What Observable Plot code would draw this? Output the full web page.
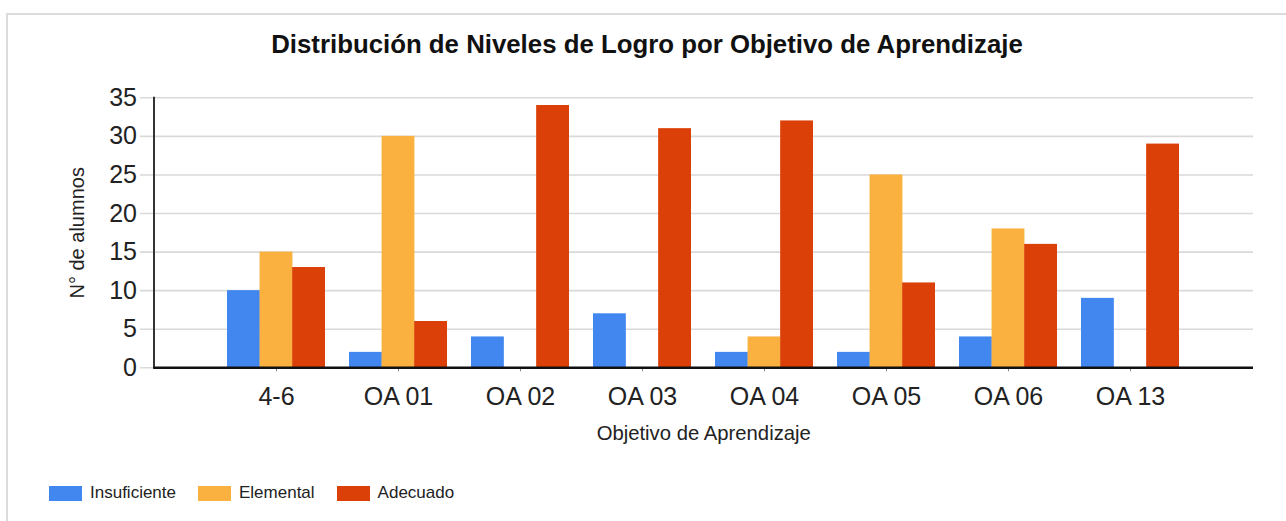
<!DOCTYPE html>
<html>
<head>
<meta charset="utf-8">
<script src="https://cdn.jsdelivr.net/npm/d3@7"></script>
<script src="https://cdn.jsdelivr.net/npm/@observablehq/plot@0.6"></script>
<style>
  html, body { margin: 0; padding: 0; background: #fff; }
  body { width: 1286px; height: 521px; position: relative; overflow: hidden; font-family: Arial, "Liberation Sans", sans-serif; }
  #card { position: absolute; left: 6px; top: 13px; width: 1400px; height: 700px; border-top: 2px solid #dcdcdc; border-left: 2px solid #dcdcdc; }
  #title { position: absolute; left: 8px; width: 1278px; top: 30px; text-align: center; font-weight: bold; font-size: 25.8px; color: #111; }
  #chart { position: absolute; left: 0; top: 0; }
  #legend { position: absolute; left: 49px; top: 483px; display: flex; align-items: center; font-size: 17px; color: #222; }
  .sw { width: 33px; height: 15px; margin-right: 8px; }
  .item { display: flex; align-items: center; margin-right: 22px; }
</style>
</head>
<body>
<div id="card"></div>
<div id="title">Distribución de Niveles de Logro por Objetivo de Aprendizaje</div>
<div id="chart"></div>
<div id="legend"></div>
<script>
// ---- data ----
const categories = ["4-6", "OA 01", "OA 02", "OA 03", "OA 04", "OA 05", "OA 06", "OA 13"];
const seriesNames = ["Insuficiente", "Elemental", "Adecuado"];
const insuficiente = [10, 2, 4, 7, 2, 2, 4, 9];
const elemental = [15, 30, 0, 0, 4, 25, 18, 0];
const adecuado = [13, 6, 34, 31, 32, 11, 16, 29];
const yTicks = [0, 5, 10, 15, 20, 25, 30, 35];
const colors = ["#4287f0", "#fab13f", "#dc4009"];
const xLabel = "Objetivo de Aprendizaje";
const yLabel = "N° de alumnos";

const seriesValues = [insuficiente, elemental, adecuado];
const rows = categories.flatMap((c, i) =>
  seriesNames.map((s, j) => ({cat: c, serie: s, value: seriesValues[j][i]})));

// ---- layout ----
const W = 1286, H = 470;
const mL = 153.5, mR = 33, mT = 97.3, mB = H - 367.3;
const paddingInner = 0.2, paddingOuter = 0.6;
const step = (W - mL - mR) / (categories.length - paddingInner + 2 * paddingOuter);
const bw = step * (1 - paddingInner);
const third = bw / 3;

const barMarks = seriesNames.map((s, j) =>
  Plot.barY(rows.filter(d => d.serie === s), {
    x: "cat", y: "value", fill: colors[j],
    insetLeft: third, insetRight: third, dx: (j - 1) * third
  }));

const chart = Plot.plot({
  width: W, height: H,
  marginLeft: mL, marginRight: mR, marginTop: mT, marginBottom: mB,
  style: {fontFamily: 'Arial, "Liberation Sans", sans-serif', background: "transparent", overflow: "visible"},
  x: {type: "band", domain: categories, paddingInner, paddingOuter, label: null},
  y: {domain: [0, 35], label: null},
  marks: [
    Plot.gridY(yTicks, {stroke: "#d9d9d9", strokeOpacity: 1, strokeWidth: 1.6, insetLeft: -13.5}),
    Plot.axisY(yTicks, {tickSize: 0, tickPadding: 17, fontSize: 25, fill: "#222", label: null}),
    Plot.axisX({tickSize: 4, tickPadding: 15, fontSize: 25, fill: "#222", stroke: "#888", label: null}),
    ...barMarks,
    Plot.frame({anchor: "left", stroke: "#333", strokeWidth: 2}),
    Plot.ruleY([0], {stroke: "#111", strokeWidth: 2.5}),
    Plot.text([xLabel], {text: d => d, frameAnchor: "bottom", dy: 72, fontSize: 20.3, fill: "#222"}),
    Plot.text([yLabel], {text: d => d, frameAnchor: "left", textAnchor: "middle", dx: -76, rotate: -90, fontSize: 20, fill: "#222"})
  ]
});
document.getElementById("chart").appendChild(chart);

// ---- legend ----
const legend = document.getElementById("legend");
seriesNames.forEach((s, j) => {
  const item = document.createElement("div");
  item.className = "item";
  const sw = document.createElement("div");
  sw.className = "sw";
  sw.style.background = colors[j];
  const t = document.createElement("span");
  t.textContent = s;
  item.appendChild(sw);
  item.appendChild(t);
  legend.appendChild(item);
});
</script>
</body>
</html>
